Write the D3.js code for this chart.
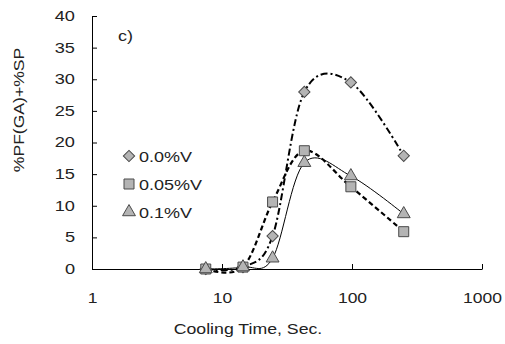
<!DOCTYPE html>
<html lang="en">
<head>
<meta charset="UTF-8">
<title>Cooling time chart</title>
<style>
    body { margin: 0; background: #fff; }
    svg { display: block; }
    text { font-family: 'Liberation Sans', Arial, sans-serif; fill: #222; }
    .axis text { font-size: 14px; font-family: 'Liberation Sans', Arial, sans-serif; fill: #222; }
    .axis path, .axis line { stroke: #000; stroke-width: 1; }
</style>
</head>
<body>
<svg width="505" height="344"></svg>
<script src="https://d3js.org/d3.v7.min.js"></script>
<script>
    // Data
    var times = [7.5, 14.5, 24.5, 43, 98, 250];
    var v00 = [0, 0.3, 5.2, 28, 29.5, 17.9];
    var v05 = [0, 0.3, 10.6, 18.7, 13, 5.9];
    var v10 = [0, 0.3, 1.7, 16.8, 14.7, 8.7];
    var seriesNames = ["0.0%V", "0.05%V", "0.1%V"];
    var yTicks = [0, 5, 10, 15, 20, 25, 30, 35, 40];
    var xTicks = [1, 10, 100, 1000];

    // the original text looks stretched sideways, so widen it a bit
    function stretch(sel, k) {
        sel.each(function() {
            var w = this.getComputedTextLength();
            d3.select(this).attr("textLength", w * k).attr("lengthAdjust", "spacingAndGlyphs");
        });
    }

    var svg = d3.select("svg");
    var margin = {left: 92, top: 16, right: 23, bottom: 75};
    var width = 505 - margin.left - margin.right,
        height = 344 - margin.top - margin.bottom;

    var g = svg.append("g")
        .attr("transform", "translate(" + margin.left + "," + margin.top + ")");

    var x = d3.scaleLog().domain([1, 1000]).range([0, width]);
    var y = d3.scaleLinear().domain([0, 40]).range([height, 0]);

    // axes, ticks pointing inwards
    var yAxis = g.append("g")
        .attr("class", "axis")
        .call(d3.axisLeft(y).tickValues(yTicks).tickSize(-5).tickSizeOuter(0).tickPadding(17));
    stretch(yAxis.selectAll("text"), 1.3);

    var xAxis = g.append("g")
        .attr("class", "axis")
        .attr("transform", "translate(0," + height + ")")
        .call(d3.axisBottom(x).tickValues(xTicks).tickFormat(d3.format("d"))
            .tickSize(-5).tickSizeOuter(0).tickPadding(24));
    stretch(xAxis.selectAll("text"), 1.25);

    // titles
    svg.append("text")
        .attr("transform", "translate(24,110) rotate(-90)")
        .attr("text-anchor", "middle")
        .attr("font-size", "15px")
        .text("%PF(GA)+%SP")
        .call(stretch, 1.17);

    svg.append("text")
        .attr("x", 248).attr("y", 334)
        .attr("text-anchor", "middle")
        .attr("font-size", "15px")
        .text("Cooling Time, Sec.")
        .call(stretch, 1.18);

    g.append("text")
        .attr("x", 26).attr("y", 25)
        .attr("font-size", "15px")
        .text("c)")
        .call(stretch, 1.2);

    // series
    var series = [
        {name: seriesNames[0], values: v00, shape: d3.symbolSquare, rot: 45, size: 64, dash: "7,3,2,3", w: 2},
        {name: seriesNames[1], values: v05, shape: d3.symbolSquare, rot: 0, size: 100, dash: "5,3", w: 2.2},
        {name: seriesNames[2], values: v10, shape: d3.symbolTriangle, rot: 0, size: 72, dash: null, w: 1}
    ];

    var line = d3.line()
        .x(function(d) { return x(d.t); })
        .y(function(d) { return y(d.v); })
        .curve(d3.curveCardinal.tension(0));

    series.forEach(function(s) {
        var pts = times.map(function(t, i) { return {t: t, v: s.values[i]}; });
        g.append("path")
            .datum(pts)
            .attr("fill", "none")
            .attr("stroke", "#000")
            .attr("stroke-width", s.w)
            .attr("stroke-dasharray", s.dash)
            .attr("d", line);
    });

    series.forEach(function(s) {
        var sym = d3.symbol().type(s.shape).size(s.size);
        g.selectAll(null)
            .data(times.map(function(t, i) { return {t: t, v: s.values[i]}; }))
            .enter().append("path")
            .attr("d", sym)
            .attr("transform", function(d) {
                return "translate(" + x(d.t) + "," + y(d.v) + ") rotate(" + s.rot + ")";
            })
            .attr("fill", "#b4b4b4")
            .attr("stroke", "#4a4a4a")
            .attr("stroke-width", 1);
    });

    // legend
    var legend = svg.append("g");
    series.forEach(function(s, i) {
        var ly = 156 + i * 28;
        var sym = d3.symbol().type(s.shape).size(s.size);
        legend.append("path")
            .attr("d", sym)
            .attr("transform", "translate(129," + ly + ") rotate(" + s.rot + ")")
            .attr("fill", "#b4b4b4")
            .attr("stroke", "#4a4a4a");
        legend.append("text")
            .attr("x", 139).attr("y", ly + 5.5)
            .attr("font-size", "15px")
            .text(s.name)
            .call(stretch, 1.2);
    });
</script>
</body>
</html>
